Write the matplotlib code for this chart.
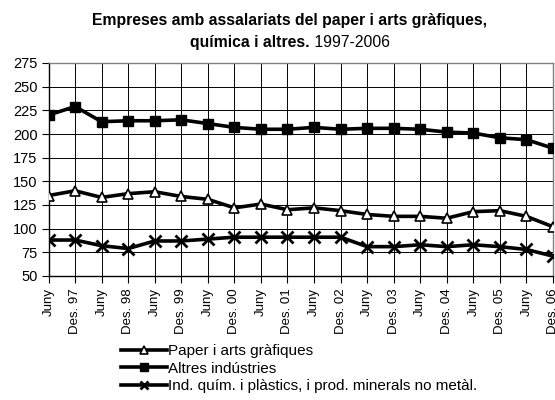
import matplotlib
matplotlib.use("Agg")
import matplotlib.pyplot as plt

plt.rcParams["font.family"] = ["Liberation Sans", "DejaVu Sans"]

# -------------------
# Data
# -------------------

periods = [
    "Juny", "Des. 97", "Juny", "Des. 98", "Juny", "Des. 99",
    "Juny", "Des. 00", "Juny", "Des. 01", "Juny", "Des. 02",
    "Juny", "Des. 03", "Juny", "Des. 04", "Juny", "Des. 05",
    "Juny", "Des. 06"
]

paper = [135, 140, 133, 137, 139, 134, 131, 122, 126, 120,
         122, 119, 115, 113, 113, 111, 118, 119, 113, 102]

altres = [220, 229, 213, 214, 214, 215, 211, 207, 205, 205,
          207, 205, 206, 206, 205, 202, 201, 196, 194, 185]

quimica = [88, 88, 82, 79, 87, 87, 89, 91, 91, 91,
           91, 91, 81, 81, 83, 81, 83, 81, 78, 71]

labels = [
    "Paper i arts gràfiques",
    "Altres indústries",
    "Ind. quím. i plàstics, i prod. minerals no metàl."
]

y_ticks = list(range(50, 276, 25))

# -------------------
# Figure
# -------------------

fig = plt.figure(figsize=(5.55, 4.0), dpi=100)

ax = fig.add_axes([48.5 / 555, 1 - 276 / 400, (553 - 48.5) / 555, (276 - 63) / 400])

x = list(range(len(periods)))

ax.plot(x, paper, color="black", lw=2.6, marker="^", ms=7,
        mfc="white", mec="black", mew=1.2, label=labels[0], zorder=3)

ax.plot(x, altres, color="black", lw=2.6, marker="s", ms=7,
        mfc="black", mec="black", label=labels[1], zorder=3)

ax.plot(x, quimica, color="black", lw=2.6, marker="x", ms=8,
        mew=2.0, label=labels[2], zorder=3)

ax.set_xlim(0, len(periods) - 1)
ax.set_ylim(50, 275)
ax.set_yticks(y_ticks)
ax.set_xticks(x)
ax.set_xticklabels(periods, rotation=90, fontsize=9.5)
ax.tick_params(axis="y", labelsize=10.5, length=5, width=0.8, pad=3)
ax.tick_params(axis="x", length=5, width=0.8, pad=4)

ax.grid(True, color="black", lw=0.7)
ax.set_axisbelow(True)

for side in ["top", "right"]:
    ax.spines[side].set_color("#808080")
    ax.spines[side].set_linewidth(1.0)
for side in ["left", "bottom"]:
    ax.spines[side].set_color("black")
    ax.spines[side].set_linewidth(1.0)

# -------------------
# Title
# -------------------

cx = 290 / 555

fig.text(cx, 1 - 20.5 / 400,
         "Empreses amb assalariats del paper i arts gràfiques,",
         ha="center", va="center", fontsize=11.3, fontweight="bold")

t_bold = fig.text(0, 1 - 42.5 / 400, "química i altres.",
                  ha="left", va="center", fontsize=11.3, fontweight="bold")
t_norm = fig.text(0, 1 - 42.5 / 400, " 1997-2006",
                  ha="left", va="center", fontsize=11.3)

fig.canvas.draw()
r = fig.canvas.get_renderer()
w_bold = t_bold.get_window_extent(r).width
w_norm = t_norm.get_window_extent(r).width
start = cx - (w_bold + w_norm) / 2 / 555
t_bold.set_x(start)
t_norm.set_x(start + w_bold / 555)

# -------------------
# Legend
# -------------------

fig.legend(
    loc="upper left",
    bbox_to_anchor=(121 / 555, 1 - 344 / 400),
    frameon=False,
    fontsize=11,
    handlelength=3.0,
    handletextpad=0.1,
    labelspacing=0.24,
    borderaxespad=0,
    borderpad=0,
    markerscale=0.8
)

fig.savefig("out.png", dpi=100)
